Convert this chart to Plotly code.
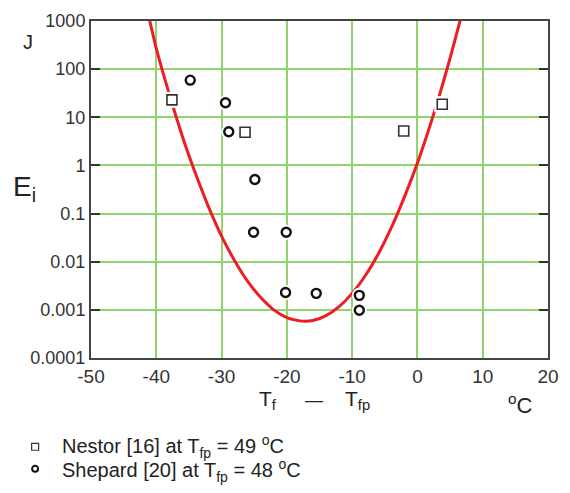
import plotly.graph_objects as go

# Data
nestor_x = [-37.6, -26.4, -2.1, 3.8]
nestor_y = [23, 4.9, 5.2, 18.7]
shepard_x = [-34.8, -29.4, -28.9, -24.9, -25.1, -20.1, -20.2, -15.5, -8.9, -8.9]
shepard_y = [59, 20, 5.0, 0.51, 0.041, 0.041, 0.0023, 0.0022, 0.0020, 0.00098]
curve_x = [-41.0, -40, -39, -38, -37, -36, -35, -34, -32, -30, -28, -26, -24, -22,
           -20, -18, -17.3, -16, -14, -12, -10, -8, -6, -4, -2, 0, 1, 2, 3, 4, 5, 6, 6.6]
curve_y = [1000, 269, 87, 30, 10.7, 4.0, 1.6, 0.68, 0.138, 0.034, 0.0105, 0.0039,
           0.0018, 0.0010, 0.00069, 0.00059, 0.00058, 0.0006, 0.00076, 0.00117, 0.0022,
           0.0051, 0.0145, 0.051, 0.22, 1.12, 2.8, 7.2, 19.6, 56, 170, 540, 1100]
x_ticks = [-50, -40, -30, -20, -10, 0, 10, 20]
x_ticktext = ["-50", "-40", "-30", "-20", "-10", "0", "10", "20"]
y_ticks = [0.0001, 0.001, 0.01, 0.1, 1, 10, 100, 1000]
y_ticktext = ["0.0001", "0.001", "0.01", "0.1", "1", "10", "100", "1000"]

L, R, T, B = 91, 549, 11, 358
W, H = 570, 493


def px(x):
    return (x - L) / (R - L)


def py(y):
    return (B - y) / (B - T)


FONT = "Liberation Sans, Arial, sans-serif"
TXT = "#222222"

fig = go.Figure()
fig.add_trace(go.Scatter(x=curve_x, y=curve_y, mode="lines",
                         line=dict(color="#ee1c24", width=3, shape="spline", smoothing=0.8),
                         showlegend=False, hoverinfo="skip"))
# white halos behind markers
fig.add_trace(go.Scatter(x=nestor_x, y=nestor_y, mode="markers",
                         marker=dict(symbol="square", size=16, color="white", line=dict(width=0)),
                         showlegend=False, hoverinfo="skip"))
fig.add_trace(go.Scatter(x=shepard_x, y=shepard_y, mode="markers",
                         marker=dict(symbol="circle", size=15, color="white", line=dict(width=0)),
                         showlegend=False, hoverinfo="skip"))
fig.add_trace(go.Scatter(x=nestor_x, y=nestor_y, mode="markers", name="Nestor [16]",
                         marker=dict(symbol="square", size=10, color="white",
                                     line=dict(color="#333333", width=1.6)),
                         showlegend=False))
fig.add_trace(go.Scatter(x=shepard_x, y=shepard_y, mode="markers", name="Shepard [20]",
                         marker=dict(symbol="circle", size=9, color="white",
                                     line=dict(color="#111111", width=2.4)),
                         showlegend=False))

annotations = [
    dict(x=px(28), y=py(33), text="J", font=dict(size=20)),
    dict(x=px(24), y=py(183), text="E<sub>i</sub>", font=dict(size=28)),
    dict(x=px(268), y=py(401), text="T<sub>f</sub>", font=dict(size=21)),
    dict(x=px(314), y=py(401), text="—", font=dict(size=18)),
    dict(x=px(358), y=py(401), text="T<sub>fp</sub>", font=dict(size=21)),
    dict(x=px(521), y=py(405), text="<sup>o</sup>C", font=dict(size=22)),
    dict(x=px(60), y=py(449), text="Nestor [16] at T<sub>fp</sub> = 49 <sup>o</sup>C",
         font=dict(size=20), xanchor="left"),
    dict(x=px(60), y=py(474), text="Shepard [20] at T<sub>fp</sub> = 48 <sup>o</sup>C",
         font=dict(size=20), xanchor="left"),
]
for a in annotations:
    a.update(xref="paper", yref="paper", showarrow=False)
    a.setdefault("xanchor", "center")
    a["yanchor"] = "middle"
    a["font"].update(family=FONT, color=TXT)

shapes = [
    dict(type="rect", xref="paper", yref="paper",
         x0=px(31.5), x1=px(38.5), y0=py(446), y1=py(453),
         line=dict(color="#333333", width=1.2), fillcolor="white"),
    dict(type="circle", xref="paper", yref="paper",
         x0=px(32), x1=px(38), y0=py(469), y1=py(475),
         line=dict(color="#111111", width=2), fillcolor="white"),
]

fig.update_layout(
    width=W, height=H,
    margin=dict(l=L, r=W - R, t=T, b=H - B, pad=0),
    paper_bgcolor="white", plot_bgcolor="white",
    font=dict(family=FONT, color=TXT),
    annotations=annotations, shapes=shapes,
)
fig.update_xaxes(range=[-50, 20], tickvals=x_ticks, ticktext=x_ticktext, showgrid=True,
                 gridcolor="#92d36e", gridwidth=1.5, zeroline=False,
                 showline=True, linecolor="#444444", linewidth=2, mirror=True,
                 ticks="", tickfont=dict(size=19, color="#333333", family=FONT))
fig.update_yaxes(type="log", range=[-4, 3], tickvals=y_ticks, ticktext=y_ticktext,
                 showgrid=True, gridcolor="#92d36e", gridwidth=1.5, zeroline=False,
                 showline=True, linecolor="#444444", linewidth=2, mirror="ticks",
                 ticks="inside", ticklen=9, tickwidth=2, tickcolor="#333333",
                 tickfont=dict(size=18, color="#333333", family=FONT))

fig.write_html("out.html")
